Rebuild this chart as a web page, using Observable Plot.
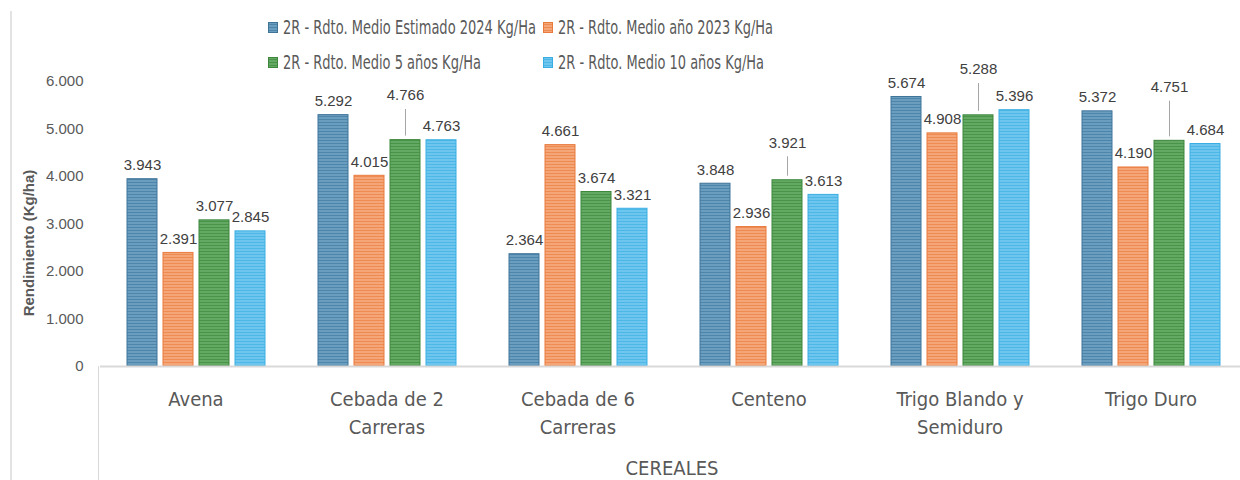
<!DOCTYPE html>
<html><head><meta charset="utf-8">
<script src="https://cdn.jsdelivr.net/npm/d3@7"></script>
<script src="https://cdn.jsdelivr.net/npm/@observablehq/plot@0.6"></script>
<style>
body{margin:0;background:#fff;}
#wrap{position:relative;width:1240px;height:480px;overflow:hidden;font-family:"Liberation Sans",Arial,sans-serif;color:#595959;}
.narrow{font-family:"Liberation Sans Narrow","Arial Narrow","DejaVu Sans Condensed",sans-serif;}
#chart{position:absolute;left:0;top:0;}
.leg{position:absolute;display:flex;align-items:center;white-space:nowrap;font-size:19px;color:#595959;transform:translateY(-50%);}
.leg svg{margin-right:5px;flex:none;}
.leg span{display:inline-block;transform-origin:0 50%;}
#ytitle{position:absolute;left:28px;top:243px;transform:translate(-50%,-50%) rotate(-90deg);font-weight:bold;font-size:15px;white-space:nowrap;color:#595959;}
#xtitle{position:absolute;left:672px;top:468px;transform:translate(-50%,-50%);font-size:20px;white-space:nowrap;color:#595959;}
.vline{position:absolute;background:#d9d9d9;width:1px;}
</style></head>
<body>
<div id="wrap">
  <svg width="0" height="0" style="position:absolute"><defs id="defs"></defs></svg>
  <div class="vline" style="left:10px;top:11px;height:469px;width:2px;background:#e3e3e3"></div>
  <div class="vline" style="left:98px;top:366px;height:114px;"></div>
  <div id="chart"></div>
  <div id="legend"></div>
  <div id="ytitle"></div>
  <div id="xtitle" class="narrow"></div>
</div>
<script>
// ---- data ----
const categories = ["Avena", "Cebada de 2 Carreras", "Cebada de 6 Carreras", "Centeno", "Trigo Blando y Semiduro", "Trigo Duro"];
const categoryLabels = ["Avena", "Cebada de 2\nCarreras", "Cebada de 6\nCarreras", "Centeno", "Trigo Blando y\nSemiduro", "Trigo Duro"];
const seriesNames = ["2R - Rdto. Medio Estimado 2024 Kg/Ha", "2R - Rdto. Medio año 2023 Kg/Ha", "2R - Rdto. Medio 5 años Kg/Ha", "2R - Rdto. Medio 10 años Kg/Ha"];
const est2024 = [3943, 5292, 2364, 3848, 5674, 5372];
const year2023 = [2391, 4015, 4661, 2936, 4908, 4190];
const avg5 = [3077, 4766, 3674, 3921, 5288, 4751];
const avg10 = [2845, 4763, 3321, 3613, 5396, 4684];
const yTicks = [0, 1000, 2000, 3000, 4000, 5000, 6000];
const yTitle = "Rendimiento (Kg/ha)";
const xTitle = "CEREALES";

// ---- label placement (leader-line labels of the 5-year series, lift in kg/ha) ----
const avg5LabelLift = [0, 645, 0, 495, 670, 835];

// ---- styles ----
const baseColors = ["#6b9dbf", "#f4a679", "#63a863", "#6ec6ee"];
const lineColors = ["#4e86ab", "#ee8b53", "#4a944a", "#4db7e7"];
const strokeColors = ["#3f7499", "#e97b3d", "#3d873d", "#3aaee2"];
const narrow = '"Liberation Sans Narrow","Arial Narrow","DejaVu Sans Condensed",sans-serif';
const legendTextWidths = [253, 215, 198, 206];

// patterns
const defs = d3.select("#defs");
baseColors.forEach((c, i) => {
  const p = defs.append("pattern").attr("id", "p" + i).attr("patternUnits", "userSpaceOnUse").attr("width", 8).attr("height", 3);
  p.append("rect").attr("width", 8).attr("height", 3).attr("fill", c);
  p.append("rect").attr("y", 2).attr("width", 8).attr("height", 1).attr("fill", lineColors[i]);
});

const seriesValues = [est2024, year2023, avg5, avg10];
const keys = seriesNames.map((_, i) => "s" + i);
const rows = [];
categories.forEach((c, ci) => seriesValues.forEach((vals, si) => rows.push({
  cat: c, key: keys[si], si, value: vals[ci], lift: si === 2 ? avg5LabelLift[ci] : 0
})));

const fmt = d3.formatLocale({decimal: ",", thousands: ".", grouping: [3], currency: ["", ""]}).format(",d");

const bars = keys.map((k, i) => Plot.barY(rows.filter(d => d.si === i), {
  fx: "cat", x: "key", y: "value", fill: `url(#p${i})`, stroke: strokeColors[i], strokeWidth: 1
}));

const chart = Plot.plot({
  width: 1240, height: 480,
  marginTop: 81, marginBottom: 114, marginLeft: 99, marginRight: -6,
  style: {fontFamily: '"Liberation Sans", Arial, sans-serif', fontSize: "15px", color: "#595959", background: "transparent", overflow: "visible"},
  fx: {domain: categories, padding: 0, axis: null},
  x: {domain: keys, paddingInner: 0.17, paddingOuter: 0.69, axis: null},
  y: {domain: [0, 6000], ticks: yTicks, tickFormat: fmt, tickSize: 0, tickPadding: 17, label: null},
  marks: [
    ...bars,
    Plot.ruleY([0], {stroke: "#d9d9d9", strokeWidth: 2}),
    Plot.ruleX(rows.filter(d => d.lift > 0), {fx: "cat", x: "key", y1: "value", y2: d => d.value + d.lift, stroke: "#a6a6a6", strokeWidth: 1, insetTop: -4}),
    Plot.text(rows, {fx: "cat", x: "key", y: d => d.value + d.lift, text: d => fmt(d.value), dy: -14, fill: "#404040", fontSize: 15}),
    Plot.text(categories.map((c, i) => ({cat: c, label: categoryLabels[i]})), {
      fx: "cat", text: "label", frameAnchor: "bottom", lineAnchor: "top", dy: 20, lineHeight: 1.38,
      fontSize: 20, fontFamily: narrow, fill: "#595959"
    })
  ]
});
document.getElementById("chart").appendChild(chart);

// legend
const legPos = [[268, 27], [543, 27], [268, 62], [543, 62]];
const legend = d3.select("#legend");
seriesNames.forEach((name, i) => {
  const item = legend.append("div").attr("class", "leg narrow").style("left", legPos[i][0] + "px").style("top", legPos[i][1] + "px");
  const sw = item.append("svg").attr("width", 10).attr("height", 11);
  sw.append("rect").attr("x", 0.5).attr("y", 0.5).attr("width", 9).attr("height", 10).attr("fill", `url(#p${i})`).attr("stroke", strokeColors[i]);
  const span = item.append("span").text(name);
  const w = span.node().getBoundingClientRect().width;
  span.style("transform", `scaleX(${legendTextWidths[i] / w})`);
});
document.getElementById("ytitle").textContent = yTitle;
document.getElementById("xtitle").textContent = xTitle;
</script>
</body></html>
